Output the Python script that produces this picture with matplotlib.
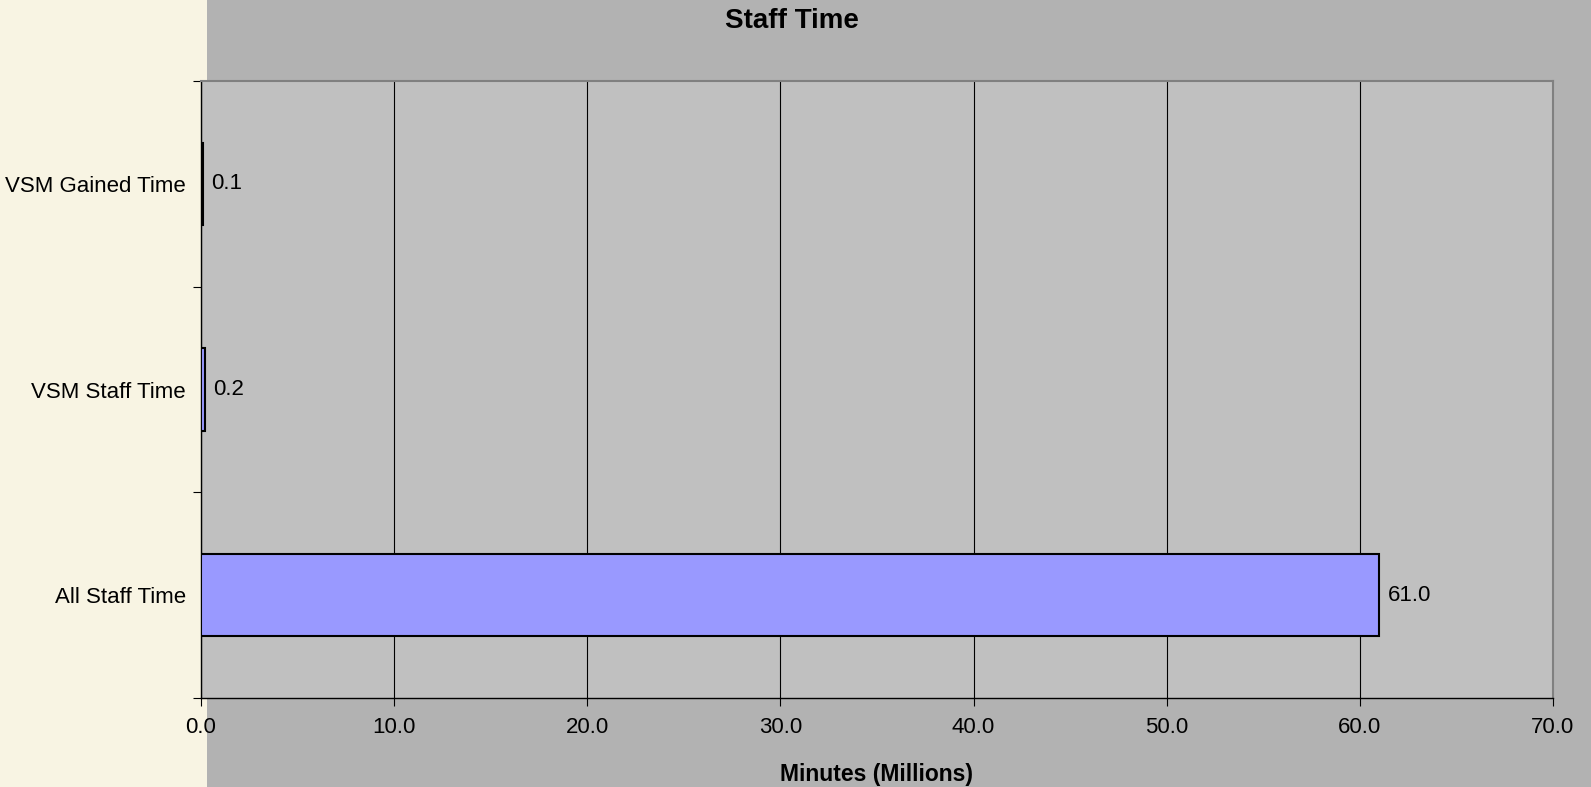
#!/usr/bin/env python3
"""horizontal bar chart of staff time in minutes"""
import matplotlib
matplotlib.use("Agg")
import matplotlib.pyplot as plt
from matplotlib.patches import Rectangle

plt.rcParams['font.family'] = ['Liberation Sans', 'DejaVu Sans']

# data, bottom to top
categories = ['All Staff Time', 'VSM Staff Time', 'VSM Gained Time']
minutes_millions = [61.0, 0.2, 0.1]
x_ticks = [0, 10, 20, 30, 40, 50, 60, 70]

W, H = 1591, 787
fig = plt.figure(figsize=(W / 100, H / 100), dpi=100)
fig.patch.set_facecolor('#b2b2b2')

# cream strip down the left side
fig.patches.append(Rectangle((0, 0), 207 / W, 1, transform=fig.transFigure,
                             facecolor='#f8f4e3', edgecolor='none',
                             zorder=-5))

ax = fig.add_axes([201 / W, 1 - 698 / H, (1553 - 201) / W, (698 - 81) / H])
ax.set_zorder(2)
ax.set_facecolor('#c0c0c0')

pos = list(range(len(categories)))
bars = ax.barh(pos, minutes_millions, height=0.4, color='#9999ff',
               edgecolor='black', linewidth=1.5, zorder=3)
for b, v in zip(bars, minutes_millions):
    ax.annotate(f'{v:.1f}', (b.get_width(), b.get_y() + b.get_height() / 2),
                xytext=(6, 0), textcoords='offset points', va='center',
                ha='left', fontsize=16, zorder=4)

ax.set_xlim(0, 70)
ax.set_ylim(-0.5, 2.5)
ax.set_xticks(x_ticks)
ax.set_xticklabels([f'{t:.1f}' for t in x_ticks], fontsize=16)
ax.xaxis.grid(True, color='black', linewidth=0.8, zorder=1)
ax.set_axisbelow(True)

# category labels centred between the tick marks at the boundaries
ax.set_yticks([-0.5, 0.5, 1.5, 2.5])
ax.set_yticklabels([])
ax.set_yticks(pos, minor=True)
ax.set_yticklabels(categories, minor=True, fontsize=16)
ax.tick_params(axis='y', which='minor', length=0, pad=11)
ax.tick_params(axis='y', which='major', length=6, direction='out')
ax.tick_params(axis='x', length=6, direction='out', pad=8)

for side in ['top', 'right']:
    ax.spines[side].set_color('#808080')
    ax.spines[side].set_linewidth(1.5)
for side in ['left', 'bottom']:
    ax.spines[side].set_color('black')
    ax.spines[side].set_linewidth(1.0)

fig.text(792 / W, 1 - 21 / H, 'Staff Time', ha='center', va='center',
         fontsize=20, fontweight='bold')
fig.text(877 / W, 1 - 774 / H, 'Minutes (Millions)', ha='center',
         va='center', fontsize=16.5, fontweight='bold')

fig.savefig('out.png', dpi=100, facecolor=fig.get_facecolor())
